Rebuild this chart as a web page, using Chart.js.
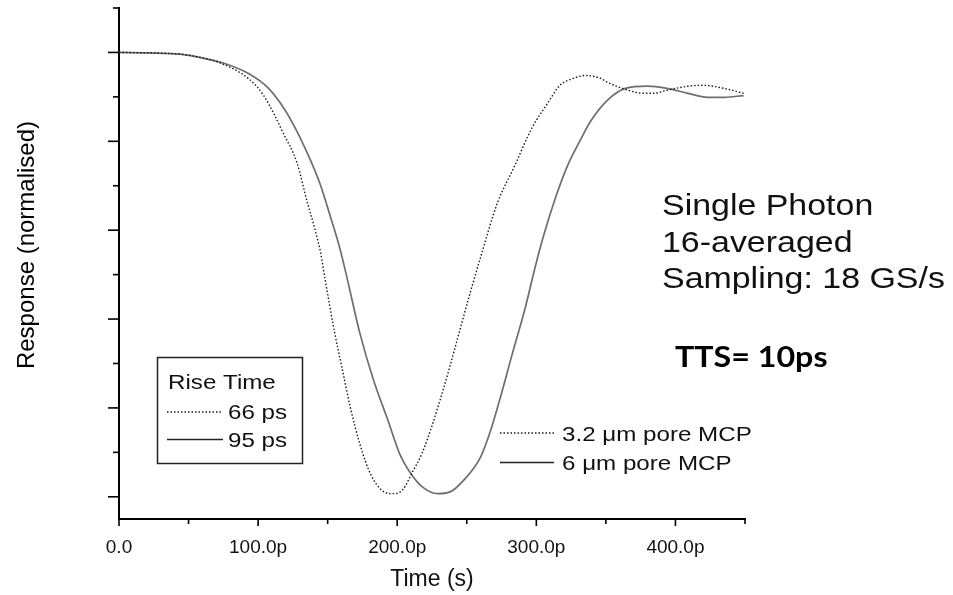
<!DOCTYPE html>
<html>
<head>
<meta charset="utf-8">
<script src="https://cdn.jsdelivr.net/npm/chart.js@4.4.1/dist/chart.umd.min.js"></script>
<style>
html,body{margin:0;padding:0;background:#fff;}
#wrap{width:953px;height:595px;position:relative;}
</style>
</head>
<body>
<div id="wrap"><canvas id="c" width="953" height="595"></canvas></div>
<script>
// ---- data (time in ps, normalised response) ----
const timeA = [0,22,44,58,73,94,104,112,117,128,135,141,145,148,155,161,166,173,181,190,197,204,211,218,225,232,238,245,253,260,272,284,297,308,317,327,335,346,351,364,377,384,394,409,420,435,449];
const respA = [1.000,0.999,0.996,0.989,0.976,0.939,0.903,0.858,0.825,0.751,0.667,0.600,0.548,0.492,0.370,0.280,0.205,0.120,0.050,0.012,0.007,0.016,0.056,0.099,0.160,0.230,0.295,0.375,0.465,0.540,0.661,0.742,0.831,0.885,0.926,0.942,0.948,0.942,0.933,0.917,0.908,0.908,0.915,0.924,0.926,0.919,0.908];
const timeB = [0,22,44,58,76,94,107,116,125,137,145,152,158,163,173,183,193,202,211,219,229,238,248,260,267,274,283,292,299,305,314,322,332,339,351,364,380,394,409,423,435,449];
const respB = [1.000,0.999,0.996,0.989,0.975,0.951,0.921,0.886,0.840,0.762,0.700,0.630,0.568,0.505,0.370,0.262,0.175,0.095,0.047,0.020,0.007,0.011,0.038,0.090,0.148,0.222,0.325,0.425,0.515,0.585,0.675,0.742,0.805,0.845,0.892,0.919,0.924,0.919,0.908,0.899,0.899,0.903];

const xMajorTicks = [0,100,200,300,400];
const xMinorTicks = [50,150,250,350,450];
const xTickLabels = ['0.0','100.0p','200.0p','300.0p','400.0p'];
const yMajorTicks = [0,0.2,0.4,0.6,0.8,1.0];
const yMinorTicks = [0.1,0.3,0.5,0.7,0.9,1.1];

const seriesNames = ['3.2 \u03bcm pore MCP','6 \u03bcm pore MCP'];
const riseTitle = 'Rise Time';
const riseTimes = ['66 ps','95 ps'];
const infoLines = ['Single Photon','16-averaged','Sampling: 18 GS/s'];
const ttsLabel = 'TTS= 10ps';
const xTitle = 'Time (s)';
const yTitle = 'Response (normalised)';

const SANS = "'Liberation Sans', Arial, Helvetica, sans-serif";
const dotDash = [1.5, 2];
const dotColor = '#1a1a1a';
const solidColor = '#6e6e6e';

function stretchText(ctx, text, x, y, font, sx, align, baseline) {
  ctx.save();
  ctx.font = font;
  ctx.textAlign = align || 'left';
  ctx.textBaseline = baseline || 'alphabetic';
  ctx.translate(x, y);
  ctx.scale(sx, 1);
  ctx.fillText(text, 0, 0);
  ctx.restore();
}
function seg(ctx, x1, y1, x2, y2) {
  ctx.beginPath(); ctx.moveTo(x1, y1); ctx.lineTo(x2, y2); ctx.stroke();
}

const decor = {
  id: 'decor',
  afterDraw(chart) {
    const {ctx, scales: {x, y}} = chart;
    ctx.save();
    ctx.strokeStyle = '#000';
    ctx.lineWidth = 1.6;
    const L = x.left, B = y.bottom;
    yMajorTicks.forEach(v => { const p = y.getPixelForValue(v); seg(ctx, L - 11, p, L, p); });
    yMinorTicks.forEach(v => { const p = y.getPixelForValue(v); seg(ctx, L - 6, p, L, p); });
    xMajorTicks.forEach(v => { const p = x.getPixelForValue(v); seg(ctx, p, B, p, B + 7); });
    xMinorTicks.forEach(v => { const p = x.getPixelForValue(v); seg(ctx, p, B, p, B + 5); });

    ctx.fillStyle = '#000';
    // y title
    ctx.save();
    ctx.translate(27, 245);
    ctx.rotate(-Math.PI / 2);
    ctx.font = '24px ' + SANS;
    ctx.textAlign = 'center';
    ctx.textBaseline = 'middle';
    ctx.fillText(yTitle, 0, 0);
    ctx.restore();

    const S = 1.15;
    // Rise time box
    ctx.lineWidth = 1.5;
    ctx.strokeStyle = '#222';
    ctx.strokeRect(157.5, 357.5, 145, 106);
    ctx.fillStyle = '#111';
    stretchText(ctx, riseTitle, 168, 389, '21px ' + SANS, S, 'left', 'alphabetic');
    stretchText(ctx, riseTimes[0], 228, 419, '21px ' + SANS, S, 'left', 'alphabetic');
    stretchText(ctx, riseTimes[1], 228, 447, '21px ' + SANS, S, 'left', 'alphabetic');
    ctx.lineWidth = 1.4;
    ctx.strokeStyle = dotColor; ctx.setLineDash(dotDash);
    seg(ctx, 167, 412, 221, 412);
    ctx.setLineDash([]);
    ctx.strokeStyle = '#222';
    seg(ctx, 167, 439.5, 223, 439.5);

    // series legend
    ctx.strokeStyle = dotColor; ctx.setLineDash(dotDash);
    seg(ctx, 500, 433, 554, 433);
    ctx.setLineDash([]);
    ctx.strokeStyle = '#222';
    seg(ctx, 500, 462.5, 554, 462.5);
    stretchText(ctx, seriesNames[0], 562, 441, '21px ' + SANS, S, 'left', 'alphabetic');
    stretchText(ctx, seriesNames[1], 562, 470, '21px ' + SANS, S, 'left', 'alphabetic');

    // info text
    ctx.fillStyle = '#111';
    stretchText(ctx, infoLines[0], 662, 215, '29.5px ' + SANS, S, 'left', 'alphabetic');
    stretchText(ctx, infoLines[1], 662, 252, '29.5px ' + SANS, S, 'left', 'alphabetic');
    stretchText(ctx, infoLines[2], 662, 288, '29.5px ' + SANS, S, 'left', 'alphabetic');
    ctx.fillStyle = '#000';
    stretchText(ctx, ttsLabel, 675, 367, 'bold 28px Lato, "Open Sans", sans-serif', S, 'left', 'alphabetic');
    ctx.restore();
  }
};

new Chart(document.getElementById('c'), {
  type: 'line',
  data: {
    datasets: [
      { label: seriesNames[0], data: timeA.map((t, i) => ({x: t, y: respA[i]})),
        borderColor: dotColor, borderWidth: 1.4, borderDash: dotDash, pointRadius: 0,
        cubicInterpolationMode: 'monotone', fill: false },
      { label: seriesNames[1], data: timeB.map((t, i) => ({x: t, y: respB[i]})),
        borderColor: solidColor, borderWidth: 1.7, pointRadius: 0,
        cubicInterpolationMode: 'monotone', fill: false }
    ]
  },
  options: {
    responsive: false,
    animation: false,
    devicePixelRatio: 1,
    layout: { padding: { left: 0, top: 8, right: 208, bottom: 0 } },
    plugins: { legend: { display: false }, tooltip: { enabled: false } },
    scales: {
      x: {
        type: 'linear', min: 0, max: 450,
        afterBuildTicks: s => { s.ticks = xMajorTicks.map(v => ({value: v})); },
        afterFit: s => { s.height = 76; },
        ticks: { callback: v => xTickLabels[xMajorTicks.indexOf(v)], color: '#111',
                 font: { family: SANS, size: 19 }, padding: 17, maxRotation: 0, autoSkip: false },
        grid: { display: true, drawOnChartArea: false, drawTicks: false },
        border: { display: true, color: '#000', width: 2 },
        title: { display: true, text: xTitle, color: '#111', font: { family: SANS, size: 23 }, padding: { top: 0, bottom: 2 } }
      },
      y: {
        type: 'linear', min: -0.05, max: 1.1,
        afterFit: s => { s.width = 119; },
        ticks: { display: false },
        grid: { display: true, drawOnChartArea: false, drawTicks: false },
        border: { display: true, color: '#000', width: 2 }
      }
    }
  },
  plugins: [decor]
});
</script>
</body>
</html>
